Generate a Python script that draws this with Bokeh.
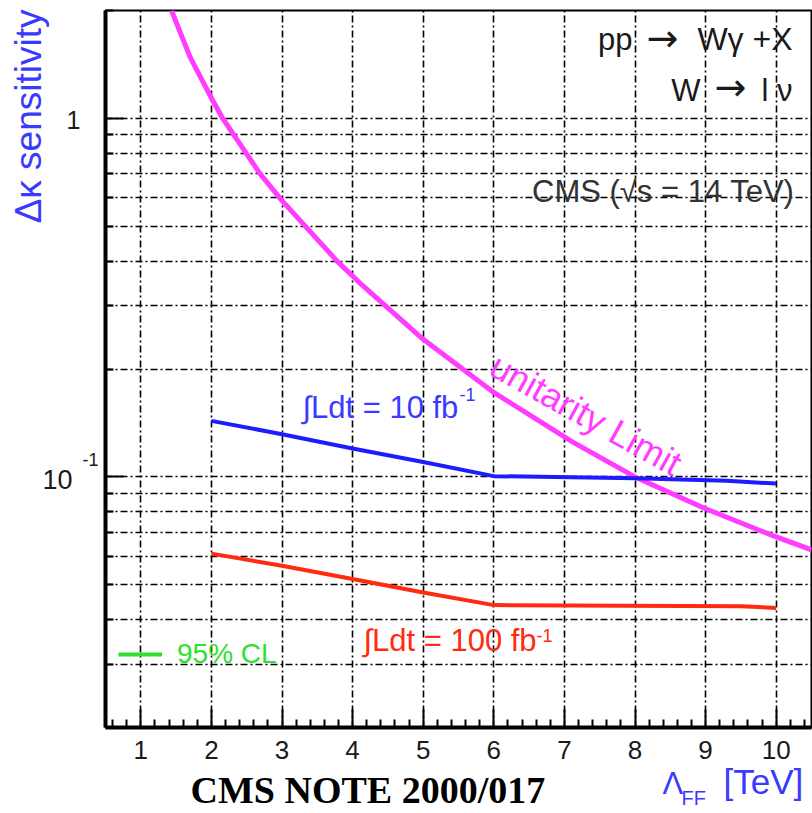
import math

from bokeh.plotting import figure
from bokeh.models import Range1d, FixedTicker, Legend, LegendItem
from bokeh.core.properties import value
from bokeh.embed import file_html
from bokeh.resources import INLINE

# ---- data -------------------------------------------------------------
# unitarity limit on delta-kappa versus form-factor scale (TeV)
unit_lambda = [1.435, 1.70, 2.0, 2.16, 2.69, 3.0, 3.78, 4.1, 5.0, 6.0, 7.12, 8.0, 9.0, 10.0, 10.5]
unit_dkappa = [2.0, 1.48, 1.14, 1.0, 0.70, 0.59, 0.40, 0.348, 0.242, 0.172, 0.125, 0.1000, 0.0815, 0.068, 0.0626]

# 95% CL sensitivity, integrated luminosity 10 fb^-1
lumi10_lambda = [2.0, 3.0, 4.0, 5.0, 6.0, 8.0, 9.3, 10.0]
lumi10_dkappa = [0.1433, 0.1316, 0.120, 0.110, 0.1005, 0.0992, 0.0975, 0.0958]

# 95% CL sensitivity, integrated luminosity 100 fb^-1
lumi100_lambda = [2.0, 3.0, 4.0, 5.0, 6.0, 9.5, 10.0]
lumi100_dkappa = [0.0611, 0.0565, 0.0519, 0.0476, 0.0439, 0.0436, 0.0431]

x_ticks = [1, 2, 3, 4, 5, 6, 7, 8, 9, 10]
x_minor = [round(0.6 + 0.2 * i, 1) for i in range(50) if round(0.6 + 0.2 * i, 1) % 1 != 0]
y_ticks = [0.1, 1.0]
y_minor = [0.02, 0.03, 0.04, 0.05, 0.06, 0.07, 0.08, 0.09,
           0.2, 0.3, 0.4, 0.5, 0.6, 0.7, 0.8, 0.9, 2.0]
y_tick_base = ["10", "1"]
y_tick_exp = ["-1", ""]

# ---- layout -----------------------------------------------------------
W, H = 812, 813
FL, FR, FT, FB = 105, 1, 10, 86          # borders around the frame
X0, X1 = 0.5, 10.5
Y0, Y1 = 0.02, 2.0
FRAME_W = W - FL - FR
FRAME_H = H - FT - FB
FRAME_BOTTOM = H - FB

SANS = "Liberation Sans"
BLUE_TXT = "#3a3aff"
BLUE = "#1c1cff"
RED = "#ff2a10"
MAGENTA = "#ff3cff"
GREEN = "#2fe02f"
INK = "#1a1a1a"

p = figure(width=W, height=H, y_axis_type="log",
           x_range=Range1d(X0, X1), y_range=Range1d(Y0, Y1),
           output_backend="svg", toolbar_location=None,
           min_border_left=FL, min_border_right=FR,
           min_border_top=FT, min_border_bottom=FB)
p.background_fill_color = "white"
p.border_fill_color = "white"
p.outline_line_color = "black"
p.outline_line_width = 2

# axes
p.xaxis.ticker = FixedTicker(ticks=x_ticks, minor_ticks=x_minor)
p.yaxis.ticker = FixedTicker(ticks=y_ticks, minor_ticks=y_minor)
for ax in (p.xaxis[0], p.yaxis[0]):
    ax.axis_line_width = 4
    ax.axis_line_color = "black"
    ax.major_tick_in = 18
    ax.major_tick_out = 0
    ax.minor_tick_in = 8
    ax.minor_tick_out = 0
    ax.major_tick_line_width = 2
    ax.minor_tick_line_width = 2
    ax.major_tick_line_color = "black"
    ax.minor_tick_line_color = "black"
p.xaxis.major_label_text_font = SANS
p.xaxis.major_label_text_font_size = "26px"
p.xaxis.major_label_text_color = INK
p.xaxis.major_label_standoff = 13
# y tick labels are drawn separately below (base and raised exponent)
p.yaxis.major_label_text_font_size = "10px"
p.yaxis.major_label_text_color = None

# dash-dot grid
dash = "7 3 2 3"
p.xgrid.ticker = FixedTicker(ticks=x_ticks)
p.xgrid.grid_line_color = "black"
p.xgrid.grid_line_dash = dash
p.xgrid.grid_line_width = 1.6
p.ygrid.grid_line_color = "black"
p.ygrid.grid_line_dash = dash
p.ygrid.grid_line_width = 1.6
p.ygrid.minor_grid_line_color = "black"
p.ygrid.minor_grid_line_dash = dash
p.ygrid.minor_grid_line_width = 1.6

# curves
p.line(unit_lambda, unit_dkappa, line_color=MAGENTA, line_width=5)
p.line(lumi10_lambda, lumi10_dkappa, line_color=BLUE, line_width=4)
p.line(lumi100_lambda, lumi100_dkappa, line_color=RED, line_width=4)

# legend key for the confidence level (renderer itself draws nothing)
cl_line = p.line([float("nan")], [float("nan")], line_color=GREEN, line_width=4)
legend = Legend(items=[LegendItem(label="95% CL", renderers=[cl_line])],
                location=(118 - FL, FRAME_BOTTOM - 670),
                background_fill_alpha=0, border_line_color=None,
                padding=0, margin=0, spacing=0,
                glyph_width=44, glyph_height=26, label_height=26,
                label_standoff=15,
                label_text_font=SANS, label_text_font_size="28px",
                label_text_color=GREEN)
p.add_layout(legend)

LOG_Y0 = math.log10(Y0)
PX_PER_DECADE = FRAME_H / (math.log10(Y1) - LOG_Y0)
PX_PER_X = FRAME_W / (X1 - X0)
BASELINE_SHIFT = 0.33   # em; lifts the glyph text onto its alphabetic baseline


def put(cx, cy, text, size, color="black", font=SANS, align="left",
        baseline="alphabetic", angle=0.0, style="normal"):
    """Place a text at canvas pixel (cx, cy); drawn on the overlay level so
    that it may sit outside the frame as well."""
    if baseline == "alphabetic":
        k = BASELINE_SHIFT * size
        cx -= k * math.sin(angle)
        cy -= k * math.cos(angle)
    x = X0 + (cx - FL) / PX_PER_X
    y = 10 ** (LOG_Y0 + (FRAME_BOTTOM - cy) / PX_PER_DECADE)
    p.text(x=[x], y=[y], text=[text], text_font=value(font),
           text_font_size=value(f"{size}px"), text_color=color,
           text_align=align, text_baseline=baseline, angle=angle,
           text_font_style=value(style), level="overlay")


# y tick labels (1 and 10^-1)
put(80, 128, y_tick_base[1], 25, color=INK, align="right")
put(72, 488, y_tick_base[0], 27, color=INK, align="right")
put(82, 465, y_tick_exp[0], 18, color=INK)

# axis titles
put(28, 9, "\u0394\u03ba sensitivity", 37, color=BLUE_TXT, align="right",
    baseline="middle", angle=math.pi / 2)
put(662, 793, "\u039b", 31, color=BLUE_TXT)
put(681, 804, "FF", 20, color=BLUE_TXT)
put(723, 793, "[TeV]", 35, color=BLUE_TXT)
put(190, 802, "CMS NOTE 2000/017", 38, font="Liberation Serif", style="bold")

# process description
put(632, 49, "pp", 31, color=INK, align="right")
put(662, 37, "\u2192", 38, color=INK, font="DejaVu Sans", align="center",
    baseline="middle")
put(792, 49, "W\u03b3 +X", 32, color=INK, align="right")
put(700, 100, "W", 31, color=INK, align="right")
put(730, 86, "\u2192", 38, color=INK, font="DejaVu Sans", align="center",
    baseline="middle")
put(792, 100, "l \u03bd", 31, color=INK, align="right")
put(794, 201, "CMS (\u221as = 14 TeV)", 31, color="#333333", align="right")

# curve annotations
put(302, 417, "\u222bLdt = 10 fb", 31, color=BLUE_TXT)
put(459, 400, "-1", 18, color=BLUE_TXT)
put(363, 650, "\u222bLdt = 100 fb", 31, color=RED)
put(536, 641, "-1", 18, color=RED)
put(487, 373, "unitarity Limit", 36, color=MAGENTA, angle=-math.radians(29))

open("out.html", "w").write(file_html(p, INLINE))
